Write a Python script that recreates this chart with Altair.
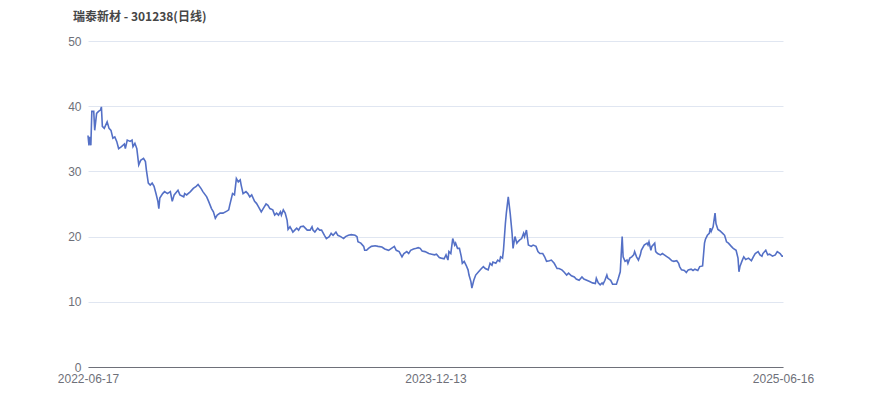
import altair as alt
import pandas as pd

title_text = "瑞泰新材 - 301238(日线)"
tick_days = [0, 363, 726]
tick_labels = ["2022-06-17", "2023-12-13", "2025-06-16"]

day = [0, 1, 2, 3, 4, 6, 7, 9, 11, 13, 14, 15, 17, 20, 22, 24, 26, 28, 30, 32,
       35, 38, 39, 41, 44, 46, 47, 49, 51, 53, 55, 58, 60, 61, 63, 65, 67, 69, 71, 73,
       74, 75, 78, 80, 83, 86, 88, 90, 94, 96, 100, 101, 103, 107, 110, 113, 115, 118, 120, 124,
       126, 129, 131, 133, 135, 138, 141, 145, 147, 148, 151, 153, 155, 157, 159, 160, 162, 165, 167, 169,
       171, 174, 176, 178, 181, 183, 186, 188, 190, 193, 195, 197, 199, 201, 202, 204, 206, 208, 209, 211,
       213, 214, 216, 218, 220, 222, 225, 227, 229, 232, 234, 235, 237, 240, 242, 244, 247, 249, 252, 254,
       256, 259, 261, 264, 267, 269, 272, 275, 279, 281, 282, 285, 288, 289, 291, 293, 296, 300, 303, 307,
       310, 314, 317, 320, 322, 325, 328, 330, 333, 335, 337, 340, 343, 345, 347, 349, 352, 356, 359, 362,
       364, 367, 369, 372, 374, 376, 377, 379, 381, 383, 384, 386, 388, 390, 391, 393, 395, 397, 398, 400,
       401, 403, 405, 408, 411, 413, 415, 418, 420, 422, 423, 426, 428, 430, 431, 433, 434, 436, 437, 439,
       441, 443, 444, 446, 448, 449, 451, 453, 455, 456, 458, 460, 463, 465, 468, 470, 472, 475, 477, 479,
       482, 484, 487, 490, 492, 495, 497, 500, 502, 505, 508, 510, 513, 516, 518, 521, 524, 527, 530, 531,
       533, 535, 537, 538, 540, 542, 543, 546, 548, 551, 552, 554, 556, 558, 559, 561, 563, 564, 566, 568,
       570, 571, 573, 575, 577, 578, 581, 584, 585, 586, 588, 589, 592, 593, 595, 598, 600, 602, 605, 607,
       610, 612, 615, 617, 618, 620, 623, 625, 627, 630, 632, 634, 637, 639, 642, 644, 645, 647, 649, 650,
       651, 653, 655, 656, 658, 660, 663, 665, 667, 669, 672, 674, 677, 679, 680, 681, 683, 685, 687, 690,
       693, 695, 697, 700, 702, 704, 705, 708, 710, 712, 715, 718, 720, 723, 725, 726]

close = [35.5, 34.0, 35.3, 34.0, 39.2, 39.2, 36.3, 38.9, 39.2, 39.4, 39.9, 36.9, 36.6, 37.6, 36.6, 36.3, 35.1, 35.3, 34.6, 33.5,
         33.8, 34.2, 33.5, 34.8, 34.6, 34.8, 33.8, 34.3, 33.5, 31.0, 31.7, 32.0, 31.5, 30.2, 28.2, 27.9, 28.2, 27.7, 26.6, 25.4,
         24.3, 25.9, 26.6, 26.9, 26.6, 26.9, 25.4, 26.4, 27.1, 26.4, 26.1, 26.6, 26.4, 26.9, 27.4, 27.7, 28.0, 27.4, 26.9, 26.1,
         25.4, 24.3, 23.8, 22.8, 23.3, 23.6, 23.6, 23.9, 24.1, 24.8, 26.6, 26.4, 28.9, 28.4, 28.7, 27.9, 26.6, 26.9, 26.6, 26.1,
         26.4, 25.4, 25.1, 24.6, 23.8, 24.3, 25.0, 24.8, 24.3, 24.1, 23.3, 23.6, 23.3, 23.8, 23.3, 24.1, 23.6, 22.5, 21.1, 21.5,
         21.0, 20.7, 21.0, 21.3, 21.0, 21.5, 21.6, 21.3, 21.0, 21.0, 21.5, 21.0, 20.7, 21.3, 21.0, 21.0, 20.2, 19.7, 20.0, 20.5,
         20.2, 20.7, 20.2, 20.0, 19.7, 20.0, 20.2, 20.3, 20.2, 20.0, 19.2, 19.0, 18.5, 17.9, 17.9, 18.2, 18.5, 18.6, 18.5, 18.4,
         18.1, 17.9, 18.2, 18.5, 17.9, 17.7, 16.9, 17.4, 17.7, 17.4, 17.9, 18.1, 18.2, 18.3, 18.2, 17.8, 17.7, 17.4, 17.3, 17.2,
         17.3, 16.8, 16.7, 16.6, 17.2, 16.4, 17.7, 17.4, 19.7, 18.7, 19.0, 18.2, 18.2, 16.9, 15.9, 16.2, 15.6, 14.9, 14.1, 13.1,
         12.1, 13.3, 14.1, 14.6, 15.1, 15.4, 15.1, 14.9, 15.9, 15.6, 16.1, 15.9, 16.4, 16.2, 16.9, 16.7, 17.9, 22.0, 23.6, 26.1,
         23.6, 20.5, 18.2, 20.0, 19.0, 19.2, 19.5, 19.7, 20.5, 20.0, 21.0, 18.7, 18.5, 18.7, 18.5, 17.7, 17.4, 17.4, 16.9, 16.2,
         16.3, 16.4, 15.9, 15.1, 15.1, 14.9, 14.6, 14.1, 14.4, 14.0, 13.8, 13.5, 13.3, 13.8, 13.5, 13.3, 13.1, 12.9, 12.8, 13.6,
         12.9, 12.6, 12.9, 12.7, 13.3, 14.1, 13.6, 13.3, 12.7, 12.7, 12.7, 13.6, 14.6, 20.0, 16.9, 16.2, 16.4, 15.9, 16.7, 16.9,
         17.2, 17.7, 16.9, 16.4, 17.2, 17.9, 18.7, 19.0, 18.7, 19.2, 17.9, 18.5, 19.0, 17.7, 17.4, 17.2, 17.4, 17.2, 16.9, 16.7,
         16.3, 16.2, 16.3, 15.9, 15.4, 14.9, 14.8, 14.5, 14.9, 15.0, 14.8, 15.0, 14.8, 15.4, 15.5, 19.0, 19.6, 20.2, 20.5, 21.3,
         20.8, 21.5, 23.6, 22.0, 21.1, 20.9, 20.5, 20.2, 19.2, 19.0, 18.5, 18.2, 17.9, 16.7, 14.6, 15.4, 16.2, 16.9, 16.5, 16.7,
         16.3, 16.9, 17.4, 17.7, 17.2, 17.0, 17.4, 17.9, 17.2, 17.3, 17.0, 17.2, 17.7, 17.4, 17.0, 17.0]

df = pd.DataFrame({"day": day, "close": close})

label_expr = (
    f"datum.value == {tick_days[0]} ? '{tick_labels[0]}' : "
    f"datum.value == {tick_days[1]} ? '{tick_labels[1]}' : '{tick_labels[2]}'"
)

FONT = "Liberation Sans"

chart = (
    alt.Chart(df)
    .mark_line(color="#5470c6", strokeWidth=1.6, interpolate="linear")
    .encode(
        x=alt.X(
            "day:Q",
            scale=alt.Scale(domain=[0, 726], nice=False, zero=False),
            axis=alt.Axis(
                values=tick_days,
                labelExpr=label_expr,
                title=None,
                grid=False,
                ticks=False,
                tickSize=0,
                domain=True,
                domainColor="#6e7079",
                domainWidth=1,
                labelColor="#6e7079",
                labelFont=FONT,
                labelFontSize=12,
                labelPadding=6,
                labelFlush=False,
                labelOverlap=False,
            ),
        ),
        y=alt.Y(
            "close:Q",
            scale=alt.Scale(domain=[0, 50], nice=False),
            axis=alt.Axis(
                values=[0, 10, 20, 30, 40, 50],
                title=None,
                grid=True,
                gridColor="#e0e6f1",
                gridWidth=1,
                ticks=False,
                tickSize=0,
                domain=False,
                labelColor="#6e7079",
                labelFont=FONT,
                labelFontSize=12,
                labelPadding=7,
            ),
        ),
    )
    .properties(
        width=695,
        height=326,
        padding={"left": 80, "top": 33, "right": 70, "bottom": 34},
        autosize=alt.AutoSizeParams(type="none"),
        background="white",
        title=alt.TitleParams(
            text=title_text,
            anchor="start",
            frame="group",
            dx=-15,
            offset=11,
            font="Noto Sans CJK SC",
            fontSize=12,
            fontWeight="bold",
            color="#464646",
        ),
    )
    .configure_view(strokeWidth=0, stroke="transparent")
)

chart.save("out.html", embed_options={"renderer": "svg", "actions": False})
